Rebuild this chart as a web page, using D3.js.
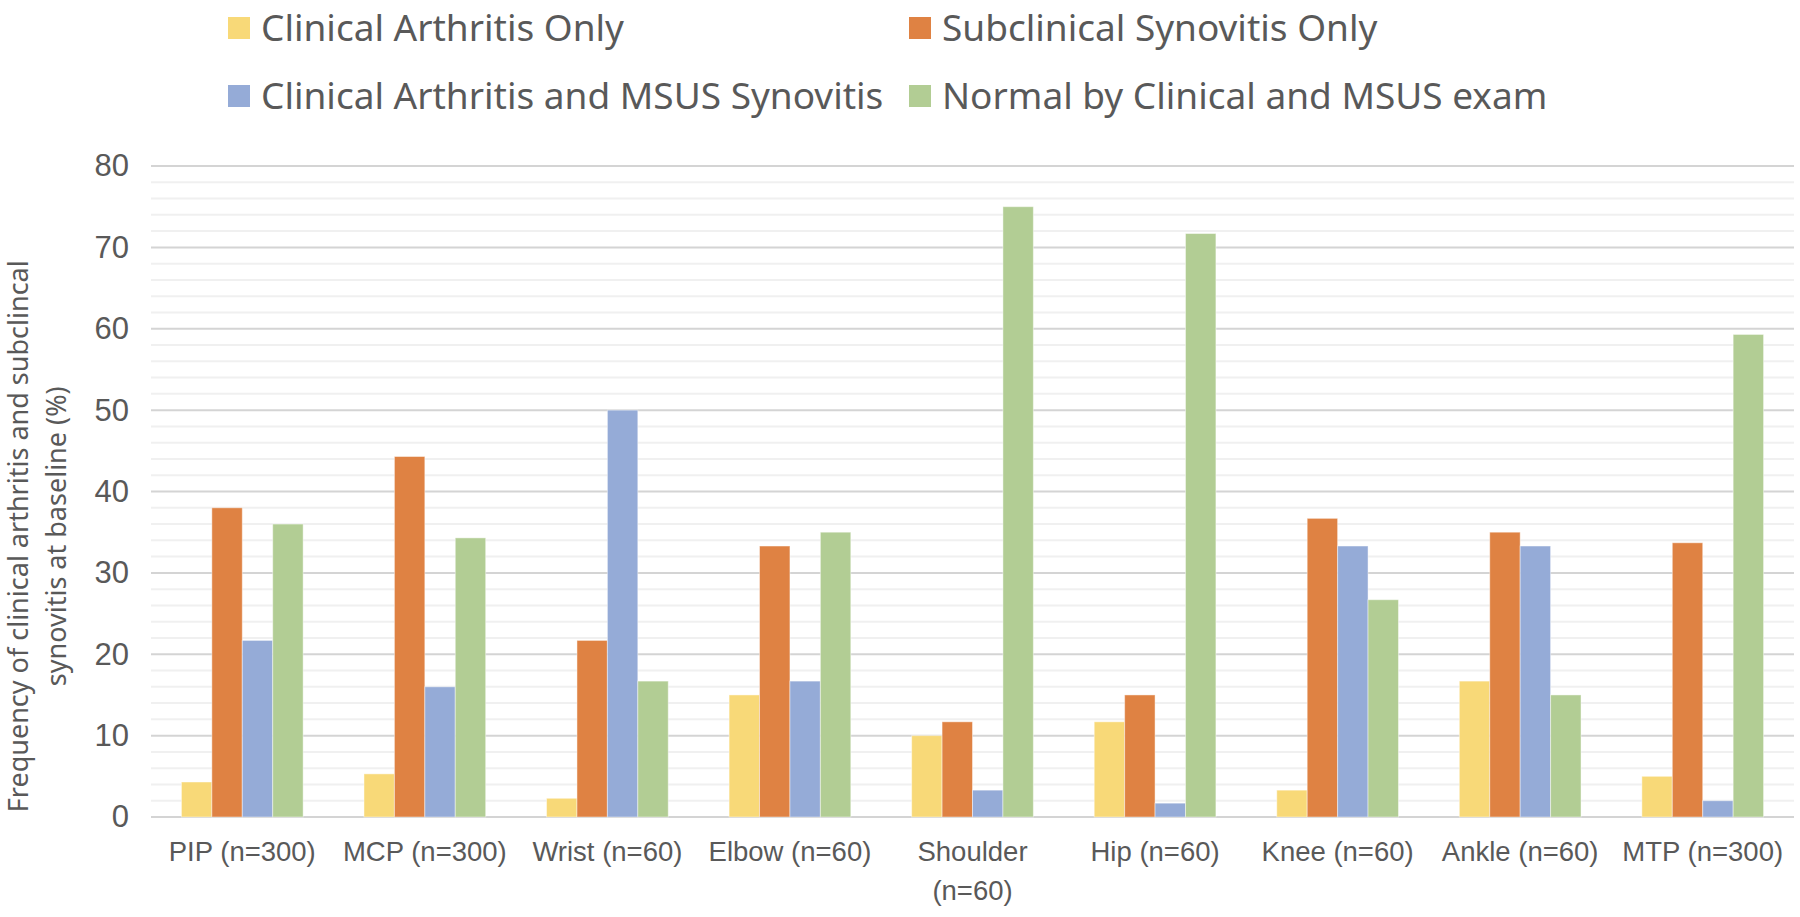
<!DOCTYPE html>
<html>
<head>
<meta charset="utf-8">
<script src="https://cdn.jsdelivr.net/npm/d3@7"></script>
<style>
  body { margin: 0; background: #fff; }
  svg { display: block; font-family: "Noto Sans", "Open Sans", sans-serif; }
</style>
</head>
<body>
<div id="chart"></div>
<script>
// data
var categories = ["PIP (n=300)", "MCP (n=300)", "Wrist (n=60)", "Elbow (n=60)", "Shoulder (n=60)",
                  "Hip (n=60)", "Knee (n=60)", "Ankle (n=60)", "MTP (n=300)"];
var seriesNames = ["Clinical Arthritis Only", "Subclinical Synovitis Only",
                   "Clinical Arthritis and MSUS Synovitis", "Normal by Clinical and MSUS exam"];
var clinicalOnly    = [4.3, 5.3, 2.3, 15, 10, 11.7, 3.3, 16.7, 5];
var subclinicalOnly = [38, 44.3, 21.7, 33.3, 11.7, 15, 36.7, 35, 33.7];
var clinicalAndUS   = [21.7, 16, 50, 16.7, 3.3, 1.7, 33.3, 33.3, 2];
var normal          = [36, 34.3, 16.7, 35, 75, 71.7, 26.7, 15, 59.3];
var yTicks = [0, 10, 20, 30, 40, 50, 60, 70, 80];
var colors = ["#f8d978", "#df8243", "#95abd7", "#b2cd94"];

var seriesValues = [clinicalOnly, subclinicalOnly, clinicalAndUS, normal];

var width = 1800, height = 917;
var margin = {top: 166, right: 6, bottom: 100, left: 151};
var textColor = "#595959";

var svg = d3.select("#chart").append("svg")
  .attr("width", width)
  .attr("height", height);

var x0 = d3.scaleBand()
  .domain(categories)
  .range([margin.left, width - margin.right])
  .paddingInner(1 / 3)
  .paddingOuter(1 / 6);

var x1 = d3.scaleBand()
  .domain(d3.range(seriesNames.length))
  .range([0, x0.bandwidth()]);

var y = d3.scaleLinear()
  .domain([0, 80])
  .range([height - margin.bottom, margin.top]);

// minor gridlines every 2
svg.append("g")
  .selectAll("line")
  .data(d3.range(0, 81, 2).filter(function(d) { return d % 10 != 0; }))
  .enter().append("line")
  .attr("x1", margin.left)
  .attr("x2", width - margin.right)
  .attr("y1", function(d) { return y(d); })
  .attr("y2", function(d) { return y(d); })
  .attr("stroke", "#f0f0f0")
  .attr("stroke-width", 2);

// major gridlines
svg.append("g")
  .selectAll("line")
  .data(yTicks)
  .enter().append("line")
  .attr("x1", margin.left)
  .attr("x2", width - margin.right)
  .attr("y1", function(d) { return y(d); })
  .attr("y2", function(d) { return y(d); })
  .attr("stroke", "#d4d4d4")
  .attr("stroke-width", 2);

// y tick labels
var yAxis = svg.append("g")
  .attr("transform", "translate(" + (margin.left - 22) + ",0)")
  .call(d3.axisLeft(y).tickValues(yTicks).tickSize(0).tickPadding(0));
yAxis.select(".domain").remove();
yAxis.selectAll("text")
  .attr("fill", textColor)
  .style("font-size", "31px");

// bars
var groups = svg.append("g")
  .selectAll("g")
  .data(categories)
  .enter().append("g")
  .attr("transform", function(d) { return "translate(" + x0(d) + ",0)"; });

groups.selectAll("rect")
  .data(function(d, i) { return seriesValues.map(function(s, k) { return {k: k, v: s[i]}; }); })
  .enter().append("rect")
  .attr("x", function(d) { return x1(d.k); })
  .attr("width", x1.bandwidth())
  .attr("y", function(d) { return y(d.v); })
  .attr("height", function(d) { return y(0) - y(d.v); })
  .attr("fill", function(d) { return colors[d.k]; })
  .attr("stroke", "#ffffff")
  .attr("stroke-opacity", 0.45)
  .attr("stroke-width", 1);

// x labels
var xAxis = svg.append("g")
  .attr("transform", "translate(0," + (y(0) + 24) + ")")
  .call(d3.axisBottom(x0).tickSize(0).tickPadding(0));
xAxis.select(".domain").remove();
xAxis.selectAll("text")
  .attr("fill", textColor)
  .style("font-size", "27.5px")
  .attr("dy", "0.71em")
  .each(function(d) {
    var t = d3.select(this);
    if (this.getComputedTextLength() > x0.step() - 6) {
      var words = d.split(" ");
      t.text(null);
      t.append("tspan").attr("x", 0).attr("dy", "0.71em").text(words.slice(0, -1).join(" "));
      t.append("tspan").attr("x", 0).attr("dy", "1.45em").text(words[words.length - 1]);
    }
  });

// y axis title
var title = svg.append("text")
  .attr("transform", "translate(28," + y(34.5) + ") rotate(-90)")
  .attr("text-anchor", "middle")
  .attr("fill", textColor)
  .style("font-size", "27px");
title.append("tspan").attr("x", 0).attr("dy", 0).text("Frequency of clinical arthritis and subclincal");
title.append("tspan").attr("x", 0).attr("dy", 38).text("synovitis at baseline (%)");

// legend, two columns
var legendX = [228, 909];
var legendY = [28, 96];
var legend = svg.append("g")
  .selectAll("g")
  .data(seriesNames)
  .enter().append("g")
  .attr("transform", function(d, i) {
    return "translate(" + legendX[i % 2] + "," + legendY[Math.floor(i / 2)] + ")";
  });

legend.append("rect")
  .attr("y", -11)
  .attr("width", 22)
  .attr("height", 22)
  .attr("fill", function(d, i) { return colors[i]; });

legend.append("text")
  .attr("x", 33)
  .attr("dy", "0.35em")
  .attr("fill", textColor)
  .style("font-size", "37px")
  .text(function(d) { return d; });
</script>
</body>
</html>
